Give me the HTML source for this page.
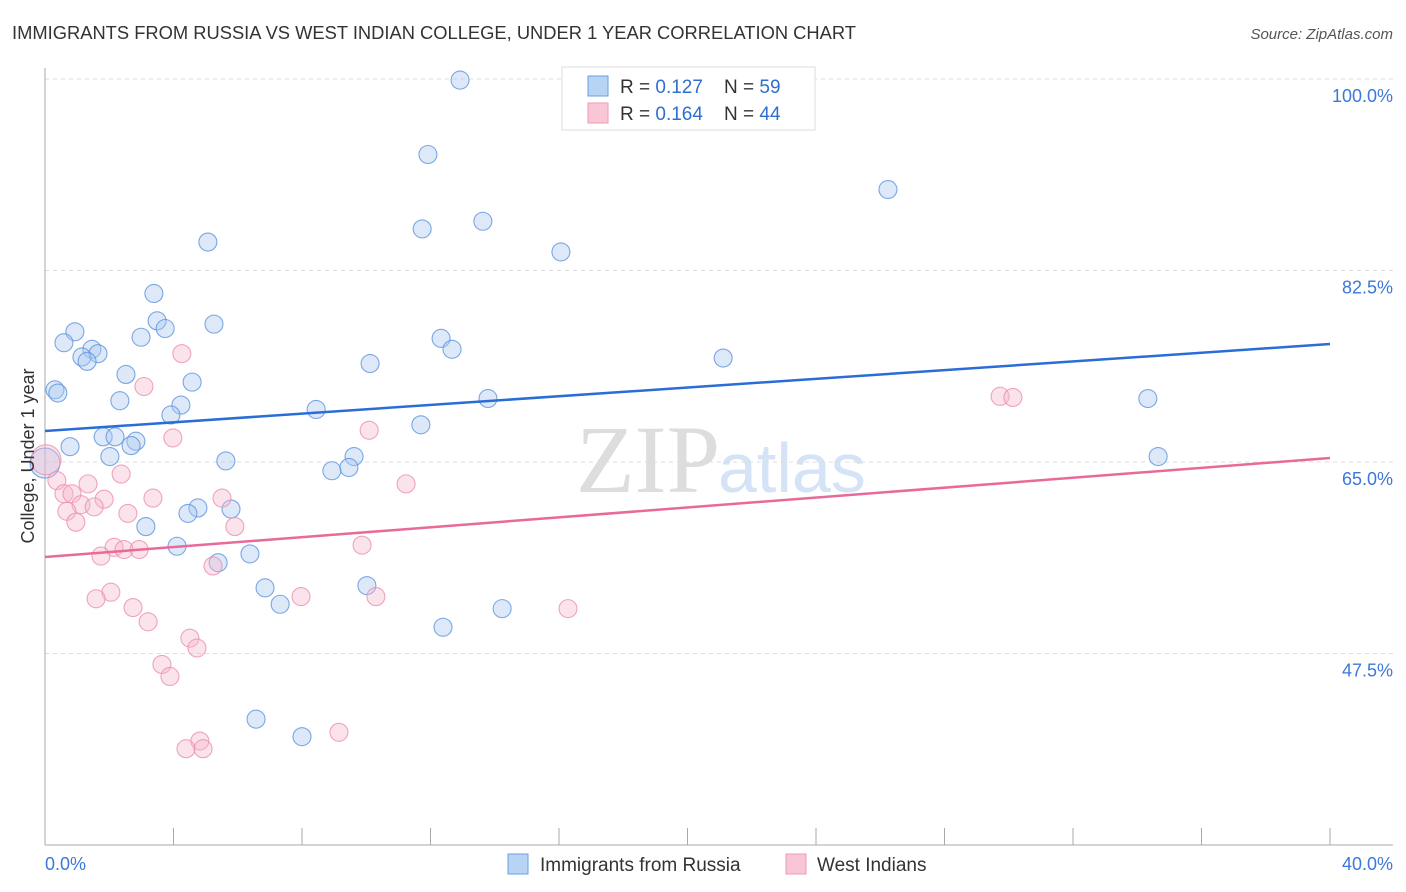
<!DOCTYPE html>
<html><head><meta charset="utf-8"><style>
body{margin:0;background:#fff;font-family:"Liberation Sans",sans-serif;}
svg{display:block}
</style></head><body>
<svg id="c" width="1406" height="892">
<text x="12" y="39" font-size="18" fill="#333" textLength="844" lengthAdjust="spacingAndGlyphs">IMMIGRANTS FROM RUSSIA VS WEST INDIAN COLLEGE, UNDER 1 YEAR CORRELATION CHART</text>
<text x="1393" y="39" font-size="15" fill="#555" font-style="italic" text-anchor="end">Source: ZipAtlas.com</text>
<text x="720" y="492" font-size="96" fill="#ddd" text-anchor="end" font-family="Liberation Serif,serif">ZIP</text>
<text x="718" y="492" font-size="70" fill="#d4e3f5">atlas</text>
<g id="grid"></g>
<g id="marks"></g>
<text transform="translate(34,456) rotate(-90)" font-size="18" fill="#333" text-anchor="middle">College, Under 1 year</text>
<g>
<rect x="562" y="67" width="253" height="63" fill="#fff" stroke="#ddd"/>
<rect x="588" y="76" width="20" height="20" fill="#b8d4f5" stroke="#6a9ee0"/>
<rect x="588" y="103" width="20" height="20" fill="#f9c6d6" stroke="#ee9ab5"/>
<text x="620" y="93" font-size="19" fill="#333">R = <tspan fill="#2f6fd0">0.127</tspan>&#160;&#160;&#160; N = <tspan fill="#2f6fd0">59</tspan></text>
<text x="620" y="120" font-size="19" fill="#333">R = <tspan fill="#2f6fd0">0.164</tspan>&#160;&#160;&#160; N = <tspan fill="#2f6fd0">44</tspan></text>
</g>
<g>
<rect x="508" y="854" width="20" height="20" fill="#b8d4f5" stroke="#6a9ee0"/>
<text x="540" y="871" font-size="19" fill="#333">Immigrants from Russia</text>
<rect x="786" y="854" width="20" height="20" fill="#f9c6d6" stroke="#ee9ab5"/>
<text x="817" y="871" font-size="19" fill="#333">West Indians</text>
</g>
</svg>
<script>
const yTicks=[47.5,65.0,82.5,100.0];
const xTickLabels=["0.0%","40.0%"];
const blueX=[12.92,11.92,26.24,13.63,11.74,5.07,16.06,3.39,3.49,5.26,3.74,0.93,2.99,12.33,0.59,1.46,12.67,1.65,1.15,1.31,21.11,10.12,2.52,4.58,0.31,0.40,2.33,34.33,13.79,4.23,8.44,3.92,11.70,1.81,2.18,2.83,2.68,0.78,2.02,34.65,9.62,5.63,9.46,8.93,0.0,4.76,4.45,5.79,3.14,4.11,6.38,5.39,6.85,10.02,7.32,14.23,12.39,6.57,8.00];
const blueY=[99.9,93.1,89.9,87.0,86.3,85.1,84.2,80.4,77.9,77.6,77.2,76.9,76.4,76.3,75.9,75.3,75.3,74.9,74.6,74.2,74.5,74.0,73.0,72.3,71.6,71.3,70.6,70.8,70.8,70.2,69.8,69.3,68.4,67.3,67.3,66.9,66.5,66.4,65.5,65.5,65.5,65.1,64.5,64.2,64.9,60.8,60.3,60.7,59.1,57.3,56.6,55.8,53.5,53.7,52.0,51.6,49.9,41.5,39.9];
const pinkX=[4.26,3.08,29.73,30.13,3.98,10.09,0.03,2.37,0.37,1.34,11.24,0.59,0.84,1.84,3.36,5.51,1.12,0.68,1.53,2.58,5.91,0.96,9.87,2.15,2.46,2.93,1.74,5.23,2.05,1.59,7.97,10.30,2.74,16.28,3.21,4.51,4.73,3.64,3.89,9.15,4.82,4.39,4.92];
const pinkY=[74.9,71.9,71.0,70.9,67.2,67.9,65.2,63.9,63.3,63.0,63.0,62.1,62.1,61.6,61.7,61.7,61.1,60.5,60.9,60.3,59.1,59.5,57.4,57.2,57.0,57.0,56.4,55.5,53.1,52.5,52.7,52.7,51.7,51.6,50.4,48.9,48.0,46.5,45.4,40.3,39.5,38.8,38.8];
const blueTrend=[67.83,75.78];
const pinkTrend=[56.32,65.37];
const NS="http://www.w3.org/2000/svg";
const X=v=>45+v*32.125;
const Y=v=>462-(v-65)*10.943;
function mk(t,a,p){const e=document.createElementNS(NS,t);for(const k in a)e.setAttribute(k,a[k]);p.appendChild(e);return e;}
const g=document.getElementById('grid');
yTicks.forEach(t=>{
 const l=mk('line',{x1:45,x2:1393,y1:Y(t),y2:Y(t),stroke:'#ddd','stroke-dasharray':'4,4'},g);
 
 
 const tx=mk('text',{x:1393,y:Y(t)+23,'font-size':18,fill:'#3b78d8','text-anchor':'end'},g);
 tx.textContent=t.toFixed(1)+'%';
 
 
});
mk('line',{x1:45,x2:45,y1:68,y2:845,stroke:'#aaa'},g);
const xa=mk('line',{x1:45,x2:1393,y1:845,y2:845,stroke:'#aaa'},g);


for(let i=1;i<=10;i++){mk('line',{x1:X(i*4),x2:X(i*4),y1:828,y2:845,stroke:'#aaa'},g);}
const xl0=mk('text',{x:45,y:870,'font-size':18,fill:'#3b78d8'},g);xl0.textContent=xTickLabels[0];


const xl1=mk('text',{x:1393,y:870,'font-size':18,fill:'#3b78d8','text-anchor':'end'},g);xl1.textContent=xTickLabels[1];


const m=document.getElementById('marks');
function pts(xs,ys,fill,stroke,name){xs.forEach((x,i)=>{
 const r=(x===0||x===0.03)?15:9;
 const c=mk('circle',{cx:X(x),cy:Y(ys[i]),r:r,fill:fill,'fill-opacity':0.4,stroke:stroke,'stroke-opacity':0.8,'stroke-width':1.1},m);
 
 
});}
pts(blueX,blueY,'#a9c9f0','#5b93dd','russia-point');
pts(pinkX,pinkY,'#f6b8cc','#ec8fae','west-indian-point');
const bt=mk('line',{x1:X(0),y1:Y(blueTrend[0]),x2:X(40),y2:Y(blueTrend[1]),stroke:'#2a6dd6','stroke-width':2.5},m);


const pt=mk('line',{x1:X(0),y1:Y(pinkTrend[0]),x2:X(40),y2:Y(pinkTrend[1]),stroke:'#e8699a','stroke-width':2.5},m);


</script>
</body></html>
